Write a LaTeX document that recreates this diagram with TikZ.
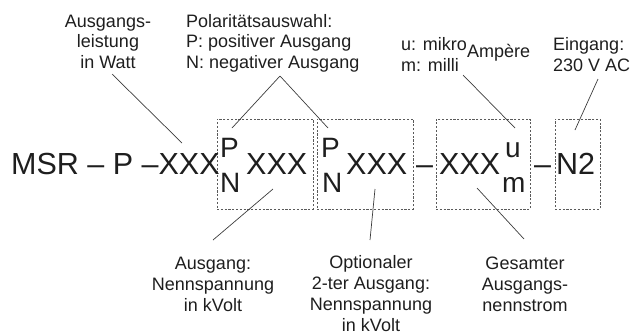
\documentclass[tikz,border=0pt]{standalone}
\usepackage{fontspec}
\setmainfont{Liberation Sans}
\usepackage{xcolor}
\usetikzlibrary{positioning}
\definecolor{InkGrey}{HTML}{1E1E1E}
\definecolor{LineGrey}{HTML}{3C3C3C}
\definecolor{BoxGrey}{HTML}{5A5A5A}
\newcommand{\lblfont}{\fontsize{18}{20.7}\selectfont}
\newcommand{\codefont}{\fontsize{30.5}{31}\selectfont}
\newcommand{\polfont}{\fontsize{28}{29}\selectfont}

\begin{document}
\begin{tikzpicture}[x=1pt, y=-1pt, every node/.style={text=InkGrey},
    lbl/.style={font=\lblfont, align=center, inner sep=0pt, anchor=base},
    code/.style={font=\codefont, inner sep=0pt, anchor=base west},
    pol/.style={font=\polfont, inner sep=0pt, anchor=base west},
    field/.style={rectangle, draw=BoxGrey, line width=0.8pt, dash pattern=on 2.2pt off 1.6pt, inner sep=0pt, minimum height=90pt},
    pointer/.style={draw=LineGrey, line width=0.7pt}]

        \useasboundingbox (0,0) rectangle (631,333);

        % dashed fields
        \node[field, minimum width=96pt] (f1) at (265,164) {};
        \node[field, minimum width=96pt] (f2) at (365,164) {};
        \node[field, minimum width=94pt] (f3) at (483,164) {};
        \node[field, minimum width=45pt] (f4) at (577.5,164) {};

        % type code
        \node[code] (msr) at (11,174) {MSR -- P --XXX};
        \node[pol] (p1) at (220,157) {P};
        \node[pol] (n1) at (220,192) {N};
        \node[code] (x1) at (246,174) {XXX};
        \node[pol] (p2) at (321,157) {P};
        \node[pol] (n2) at (322,192) {N};
        \node[code] (x2) at (346,174) {XXX};
        \node[code] (d1) at (416,174) {--};
        \node[code] (x3) at (439,174) {XXX};
        \node[pol] (mu) at (505,157) {u};
        \node[pol] (mi) at (502,192) {m};
        \node[code] (d2) at (534,174) {--};
        \node[code] (in) at (556,174) {N2};

        % labels above (base = last line)
        \node[lbl] (watt) at (108,68.4) {Ausgangs-\\leistung\\in Watt};
        \node[lbl, align=left, anchor=base west] (polsel) at (186,68.4) {Polaritätsauswahl:\\P: positiver Ausgang\\N: negativer Ausgang};
        \node[lbl, align=left, anchor=base west] (unit) at (401,71.2) {u: mikro\\m: milli};
        \node[lbl, anchor=base west] (amp) at (467,57) {Ampère};
        \node[lbl, align=left, anchor=base west] (supply) at (553,71.2) {Eingang:\\230 V AC};

        % labels below
        \node[lbl] (volt1) at (213,311) {Ausgang:\\Nennspannung\\in kVolt};
        \node[lbl] (volt2) at (371,331) {Optionaler\\2-ter Ausgang:\\Nennspannung\\in kVolt};
        \node[lbl] (curr) at (525,311) {Gesamter\\Ausgangs-\\nennstrom};

        % pointer ends
        \coordinate (watt-a) at (112,74);  \coordinate (watt-b) at (182,143);
        \coordinate (pol-a) at (280,76);   \coordinate (pol-b) at (232,128);
        \coordinate (pol-c) at (328,128);
        \coordinate (unit-a) at (463,75);  \coordinate (unit-b) at (515,128);
        \coordinate (sup-a) at (598,79);   \coordinate (sup-b) at (575,130);
        \coordinate (v1-a) at (273,189);   \coordinate (v1-b) at (213,240);
        \coordinate (v2-a) at (375,189);   \coordinate (v2-b) at (370,240);
        \coordinate (cur-a) at (477,188);  \coordinate (cur-b) at (524,239);

        \path[pointer]
        (watt-a) edge (watt-b)
        (pol-a) edge (pol-b)
        (pol-a) edge (pol-c)
        (unit-a) edge (unit-b)
        (sup-a) edge (sup-b)
        (v1-a) edge (v1-b)
        (v2-a) edge (v2-b)
        (cur-a) edge (cur-b);

    \end{tikzpicture}
\end{document}
